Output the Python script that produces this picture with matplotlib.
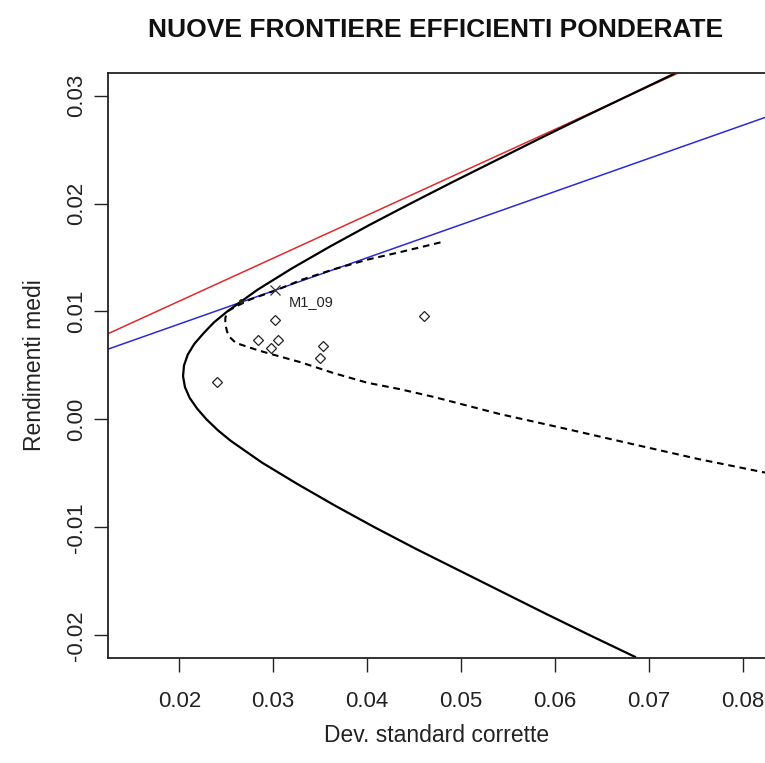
"""Nuove frontiere efficienti ponderate: frontiera, frontiera pesata, rette e titoli."""

import matplotlib

matplotlib.use("Agg")
import matplotlib.pyplot as plt  # noqa: E402

plt.rcParams["font.family"] = ["Liberation Sans", "DejaVu Sans"]

# frontiera efficiente (linea continua nera)
front_sd = [0.0685, 0.0637, 0.0590, 0.0544, 0.0498, 0.0452, 0.0408, 0.0366,
            0.0326, 0.0288, 0.0255, 0.0241, 0.0229, 0.0219, 0.0211, 0.0206,
            0.0204, 0.0205, 0.0209, 0.0216, 0.0226, 0.0237, 0.0251, 0.0283,
            0.0320, 0.0360, 0.0402, 0.0446, 0.0491, 0.0537, 0.0583, 0.0630,
            0.0678, 0.0726]
front_mu = [-0.022, -0.020, -0.018, -0.016, -0.014, -0.012, -0.010, -0.008,
            -0.006, -0.004, -0.002, -0.001, 0.000, 0.001, 0.002, 0.003,
            0.004, 0.005, 0.006, 0.007, 0.008, 0.009, 0.010, 0.012,
            0.014, 0.016, 0.018, 0.020, 0.022, 0.024, 0.026, 0.028,
            0.030, 0.032]

# frontiera ponderata (tratteggiata)
pond_sd = [0.0478, 0.0435, 0.0400, 0.0364, 0.0329, 0.0304, 0.0275, 0.0259,
           0.0251, 0.0249, 0.0249, 0.0251, 0.0254, 0.0260, 0.0270, 0.0284,
           0.0300, 0.0329, 0.0364, 0.0400, 0.0435, 0.0470, 0.0541, 0.0613,
           0.0683, 0.0754, 0.0839]
pond_mu = [0.0164, 0.0155, 0.0148, 0.0139, 0.0129, 0.0120, 0.0111, 0.0104,
           0.0100, 0.0094, 0.0088, 0.0081, 0.0076, 0.0071, 0.0068, 0.0064,
           0.0060, 0.0053, 0.0043, 0.0034, 0.0028, 0.0021, 0.0005, -0.0009,
           -0.0023, -0.0037, -0.0052]

# rette (intercetta, pendenza)
red_line = (0.0030, 0.398)
blue_line = (0.0027, 0.307)

# titoli
asset_sd = [0.0302, 0.0460, 0.0284, 0.0305, 0.0298, 0.0353, 0.0350, 0.0240]
asset_mu = [0.0092, 0.0096, 0.0074, 0.0074, 0.0066, 0.0068, 0.0057, 0.0035]

m1_sd, m1_mu = 0.0302, 0.0120
m1_label = "M1_09"
dot_sd, dot_mu = 0.0266, 0.0110

x_ticks = [0.02, 0.03, 0.04, 0.05, 0.06, 0.07, 0.08]
y_ticks = [-0.02, -0.01, 0.00, 0.01, 0.02, 0.03]

W, H = 765, 763
fig = plt.figure(figsize=(W / 100, H / 100), dpi=100)
ax = fig.add_axes([107.7 / W, 105.5 / H, (W - 107.7) / W, (657.5 - 73.3) / H])

ax.axline((0, red_line[0]), slope=red_line[1], color="#e02a2a", lw=1.1)
ax.axline((0, blue_line[0]), slope=blue_line[1], color="#2b2bd0", lw=1.1)
ax.plot(front_sd, front_mu, color="black", lw=1.6)
ax.plot(pond_sd, pond_mu, color="black", lw=1.5, ls=(0, (3.2, 2.3)))
ax.plot(asset_sd, asset_mu, ls="none", marker="D", ms=5.3, mfc="none",
        mec="#222222", mew=0.9)
ax.plot([m1_sd], [m1_mu], ls="none", marker="x", ms=7, color="#333333", mew=0.9)
ax.plot([dot_sd], [dot_mu], ls="none", marker="o", ms=2.5, color="#222222")
ax.text(m1_sd + 0.0015, m1_mu - 0.0011, m1_label, fontsize=10.5,
        color="#222222", va="center", ha="left")

ax.set_xlim(0.01238, 0.08234)
ax.set_ylim(-0.02206, 0.03207)
ax.set_xticks(x_ticks, labels=[f"{v:.2f}" for v in x_ticks])
ax.set_yticks(y_ticks, labels=[f"{v:.2f}" for v in y_ticks])
ax.tick_params(axis="both", direction="out", length=10, width=1.0,
               colors="#222222", labelsize=16)
ax.tick_params(axis="x", pad=14)
ax.tick_params(axis="y", pad=5, labelrotation=90)
for lab in ax.get_yticklabels():
    lab.set_va("center")
for s in ["left", "top", "bottom"]:
    ax.spines[s].set_linewidth(1.3)
    ax.spines[s].set_color("#222222")
ax.spines["right"].set_visible(False)

ax.set_xlabel("Dev. standard corrette", fontsize=16.5, color="#222222")
ax.set_ylabel("Rendimenti medi", fontsize=16.5, color="#222222")
ax.xaxis.set_label_coords((437 - 107.7) / (W - 107.7), -(735 - 657.5) / 584.2)
ax.yaxis.set_label_coords((35 - 107.7) / (W - 107.7), 0.5)
ax.xaxis.label.set_va("center")
ax.yaxis.label.set_va("center")

fig.text(436 / W, 1 - 30 / H, "NUOVE FRONTIERE EFFICIENTI PONDERATE",
         ha="center", va="center", fontsize=19, fontweight="bold",
         color="#111111")

fig.savefig("out.png", dpi=100)
